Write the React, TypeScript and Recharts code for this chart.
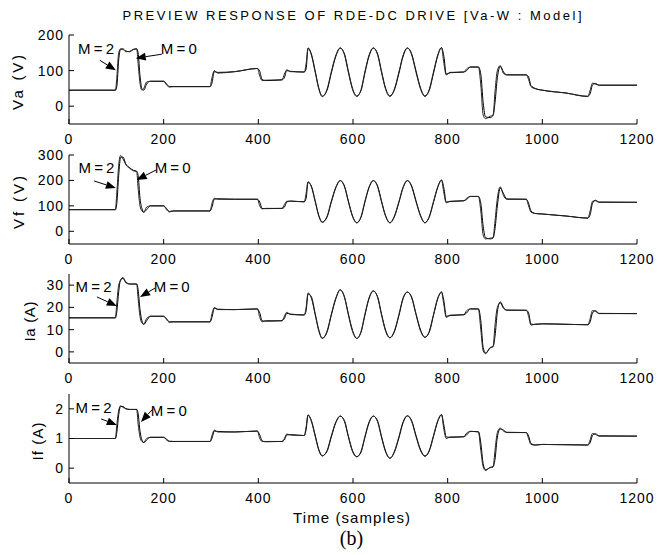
import React from 'react';
import { LineChart, Line, XAxis, YAxis, ReferenceLine, ReferenceDot } from 'recharts';

// sample instants (shared by all four traces)
const t = [
  0, 98, 101, 105, 109, 114, 120, 128, 136, 143, 146, 150, 154, 158, 164, 172, 200, 206, 212, 220,
  298, 302, 307, 314, 350, 398, 403, 408, 415, 450, 455, 460, 468, 497, 501,
  505, 512, 520, 528, 535, 545, 554, 564, 573, 582, 590, 599, 608, 617, 625, 634, 643, 652, 660, 669,
  678, 687, 697, 706, 715, 724, 733, 743, 752, 761, 770, 779, 787,
  792, 797, 805, 834, 840, 848, 865, 870, 875, 880, 890, 896, 900, 905, 911, 918, 925, 966, 971, 976,
  985, 1000, 1050, 1096, 1101, 1106, 1112, 1120, 1200,
];

// armature voltage Va (V)
const va2 = [
  45, 45, 80, 150, 161, 160, 153, 154, 160, 161, 120, 65, 45, 50, 68, 70, 70, 60, 54, 55,
  55, 80, 100, 93, 97, 106, 85, 72, 73, 74, 90, 102, 97, 96, 120,
  164, 144, 96, 47, 27, 47, 96, 144, 164, 144, 96, 47, 27, 47, 96, 144, 164, 144, 96, 47,
  27, 47, 96, 144, 164, 144, 96, 47, 27, 47, 96, 144, 165,
  120, 88, 95, 96, 105, 110, 110, 60, -25, -35, -28, -25, 40, 100, 114, 92, 88, 88, 75, 55,
  49, 45, 37, 27, 45, 65, 62, 59, 59,
];
const va0 = [
  45, 45, 55, 130, 160, 161, 155, 153, 159, 161, 150, 85, 50, 45, 62, 70, 70, 63, 55, 55,
  55, 65, 97, 95, 97, 106, 98, 75, 72, 74, 80, 100, 98, 96, 105,
  162, 147, 100, 50, 28, 44, 92, 141, 163, 147, 100, 50, 29, 44, 92, 141, 163, 147, 100, 50,
  29, 44, 92, 141, 163, 147, 100, 50, 29, 44, 92, 141, 164,
  140, 90, 94, 96, 100, 110, 110, 90, 10, -30, -32, -26, 10, 80, 112, 96, 88, 88, 82, 58,
  50, 45, 37, 28, 35, 60, 64, 59, 59,
];

// field voltage Vf (V)
const vf2 = [
  85, 85, 150, 260, 298, 285, 262, 248, 238, 235, 170, 100, 80, 75, 95, 100, 100, 85, 76, 80,
  80, 110, 130, 126, 126, 126, 100, 88, 90, 90, 105, 118, 118, 116, 150,
  195, 175, 117, 58, 35, 58, 117, 175, 200, 175, 117, 58, 33, 58, 117, 175, 200, 175, 117, 58,
  33, 58, 117, 175, 200, 175, 117, 58, 33, 58, 117, 175, 202,
  150, 112, 118, 120, 130, 137, 137, 80, -15, -30, -27, -25, 40, 130, 175, 140, 126, 126, 100, 75,
  70, 68, 60, 52, 80, 118, 120, 114, 114,
];
const vf0 = [
  85, 85, 110, 220, 290, 292, 265, 250, 240, 236, 220, 130, 90, 75, 85, 100, 100, 90, 78, 80,
  80, 95, 126, 128, 126, 126, 115, 90, 89, 90, 95, 115, 119, 116, 130,
  192, 178, 121, 61, 36, 55, 113, 172, 199, 178, 121, 61, 34, 55, 113, 172, 199, 178, 121, 61,
  34, 55, 113, 172, 199, 178, 121, 61, 34, 55, 113, 172, 201,
  170, 115, 117, 120, 125, 137, 137, 110, 20, -25, -30, -26, 10, 100, 170, 148, 127, 126, 110, 80,
  70, 68, 60, 52, 65, 110, 122, 115, 114,
];

// armature current Ia (A)
const ia2 = [
  15.3, 15.3, 22, 30, 32, 33.5, 31, 30.5, 30.5, 30.5, 24, 16, 13, 12.5, 15, 16, 16, 14.5, 13.3, 13.5,
  13.5, 17, 20, 19, 19, 19.3, 15.5, 13.5, 14, 14, 16, 17.8, 16.8, 16.6, 20,
  26.5, 24.2, 16.8, 9.2, 6, 9.2, 16.8, 24.4, 28, 24.4, 16.8, 9.2, 6, 9.2, 16.8, 24.4, 27.5, 24.4, 16.8, 9.2,
  6.3, 9.2, 16.8, 24.4, 27, 24.2, 16.8, 9.2, 6.5, 9.2, 16.8, 24.2, 27,
  21, 15.5, 16.5, 16.7, 18.5, 19.3, 19.3, 10, 0.5, -0.8, 2, 2.5, 12, 20, 22, 19.5, 18.7, 18.7, 16, 12,
  12.5, 12.6, 12.4, 12.2, 15, 18.6, 18.2, 17.2, 17.2,
];
const ia0 = [
  15.3, 15.3, 18, 27, 32.5, 33, 31.5, 30.5, 30.5, 30.5, 28, 19, 14, 12.3, 14, 16, 16, 15, 13.5, 13.5,
  13.5, 15.5, 19.6, 19.2, 19, 19.3, 17.5, 14, 13.8, 14, 15, 17.3, 17, 16.6, 18.5,
  26, 24.8, 17.3, 9.7, 6.2, 8.8, 16.3, 24, 27.8, 24.8, 17.3, 9.7, 6.1, 8.8, 16.3, 24, 27.3, 24.8, 17.3, 9.7,
  6.4, 8.8, 16.3, 24, 26.8, 24.6, 17.3, 9.7, 6.6, 8.8, 16.3, 23.8, 26.8,
  23, 16, 16.3, 16.7, 17.5, 19.3, 19.3, 14, 2, -0.5, 1.8, 2.3, 7, 18, 22.5, 20, 18.8, 18.7, 17.5, 12.5,
  12.3, 12.6, 12.4, 12.2, 13.5, 17.5, 18.5, 17.3, 17.2,
];

// field current If (A)
const if2 = [
  1, 1, 1.45, 1.95, 2.1, 2.05, 2.0, 1.98, 1.98, 1.98, 1.5, 1.05, 0.9, 0.87, 1.0, 1.04, 1.04, 0.95, 0.9, 0.9,
  0.9, 1.1, 1.28, 1.22, 1.22, 1.25, 1.0, 0.9, 0.9, 0.9, 1.0, 1.15, 1.12, 1.1, 1.4,
  1.8, 1.58, 1.08, 0.59, 0.41, 0.59, 1.08, 1.57, 1.76, 1.57, 1.06, 0.56, 0.38, 0.57, 1.06, 1.56, 1.76, 1.56, 1.05, 0.54,
  0.33, 0.55, 1.06, 1.57, 1.77, 1.57, 1.07, 0.58, 0.4, 0.6, 1.1, 1.6, 1.81,
  1.3, 1.0, 1.05, 1.06, 1.18, 1.24, 1.22, 0.6, 0.05, -0.08, 0.03, 0.05, 0.6, 1.2, 1.35, 1.25, 1.2, 1.2, 1.0, 0.8,
  0.78, 0.8, 0.79, 0.78, 0.95, 1.17, 1.14, 1.08, 1.08,
];
const if0 = [
  1, 1, 1.2, 1.8, 2.08, 2.08, 2.01, 1.98, 1.98, 1.98, 1.85, 1.25, 0.95, 0.86, 0.95, 1.04, 1.04, 0.98, 0.91, 0.9,
  0.9, 1.0, 1.25, 1.24, 1.22, 1.25, 1.12, 0.92, 0.89, 0.9, 0.95, 1.12, 1.13, 1.1, 1.3,
  1.78, 1.61, 1.12, 0.62, 0.42, 0.56, 1.04, 1.54, 1.75, 1.6, 1.1, 0.59, 0.39, 0.54, 1.02, 1.53, 1.75, 1.59, 1.09, 0.57,
  0.34, 0.52, 1.02, 1.54, 1.76, 1.6, 1.11, 0.61, 0.41, 0.57, 1.06, 1.57, 1.8,
  1.45, 1.05, 1.04, 1.06, 1.12, 1.24, 1.23, 0.85, 0.15, -0.05, 0.02, 0.04, 0.3, 1.05, 1.32, 1.28, 1.21, 1.2, 1.08, 0.83,
  0.78, 0.8, 0.79, 0.78, 0.86, 1.1, 1.16, 1.09, 1.08,
];

const xTicks = [0, 200, 400, 600, 800, 1000, 1200];

const FONT = '"Liberation Sans", Arial, Helvetica, sans-serif';
const PLOT_H = 89;
const PAD_TOP = 11;
const XAXIS_H = 28;

type Pt = [number, number];
interface Note { label: string; at: Pt; tail: Pt; tip: Pt }

const panels = [
  {
    id: 'va', m2: va2, m0: va0, domain: [-50, 200], ticks: [0, 100, 200], top: 35,
    ylabel: 'Va (V)', labelX: 17, labelLen: 55,
    notes: [
      { label: 'M=2', at: [57, 163], tail: [65, 129], tip: [99, 101] },
      { label: 'M=0', at: [232, 163], tail: [196, 146], tip: [141, 135] },
    ] as Note[],
  },
  {
    id: 'vf', m2: vf2, m0: vf0, domain: [-50, 300], ticks: [0, 100, 200, 300], top: 155,
    ylabel: 'Vf (V)', labelX: 18, labelLen: 53,
    notes: [
      { label: 'M=2', at: [58, 249], tail: [53, 198], tip: [99, 170] },
      { label: 'M=0', at: [219, 249], tail: [184, 241], tip: [143, 202] },
    ] as Note[],
  },
  {
    id: 'ia', m2: ia2, m0: ia0, domain: [-5, 35], ticks: [0, 10, 20, 30], top: 274,
    ylabel: 'Ia (A)', labelX: 29, labelLen: 40,
    notes: [
      { label: 'M=2', at: [52, 29.2], tail: [59, 24.7], tip: [101, 20.6] },
      { label: 'M=0', at: [217, 29.2], tail: [182, 28.7], tip: [150, 24.7] },
    ] as Note[],
  },
  {
    id: 'if', m2: if2, m0: if0, domain: [-0.5, 2.5], ticks: [0, 1, 2], top: 394,
    ylabel: 'If (A)', labelX: 37, labelLen: 38,
    notes: [
      { label: 'M=2', at: [52, 2.05], tail: [68, 1.66], tip: [101, 1.455] },
      { label: 'M=0', at: [211, 1.93], tail: [177, 1.99], tip: [152, 1.56] },
    ] as Note[],
  },
];

const tickStyle = { fontSize: 14, fill: '#000', fontFamily: FONT, letterSpacing: 1 };
const blank = () => '';

const Arrow = (p: any) => {
  const { x1, y1, x2, y2 } = p;
  const dx = x2 - x1;
  const dy = y2 - y1;
  const len = Math.hypot(dx, dy) || 1;
  const ux = dx / len;
  const uy = dy / len;
  const hl = 10;
  const hw = 4;
  const bx = x2 - ux * hl;
  const by = y2 - uy * hl;
  return (
    <g>
      <line x1={x1} y1={y1} x2={bx} y2={by} stroke="#000" strokeWidth={1} />
      <polygon
        points={`${x2},${y2} ${bx - uy * hw},${by + ux * hw} ${bx + uy * hw},${by - ux * hw}`}
        fill="#000"
      />
    </g>
  );
};

const noteText = (label: string) => (p: any) => (
  <text
    x={p.cx}
    y={p.cy}
    textAnchor="middle"
    dominantBaseline="central"
    fontFamily={FONT}
    fontSize={15}
    textLength={36}
    lengthAdjust="spacing"
    fill="#000"
  >
    {label}
  </text>
);

function Panel({ p }: { p: (typeof panels)[number] }) {
  const rows = t.map((x, i) => ({ t: x, m2: p.m2[i], m0: p.m0[i] }));
  return (
    <div style={{ position: 'absolute', left: 0, top: p.top - PAD_TOP }}>
      <LineChart
        width={668}
        height={PAD_TOP + PLOT_H + XAXIS_H}
        data={rows}
        margin={{ top: PAD_TOP, right: 31, bottom: 0, left: 0 }}
      >
        <XAxis
          dataKey="t" type="number" domain={[0, 1200]} ticks={xTicks} interval={0}
          allowDataOverflow height={XAXIS_H} tickSize={-5} tickMargin={15}
          stroke="#000" tick={tickStyle}
        />
        <XAxis
          xAxisId="top" orientation="top" dataKey="t" type="number" domain={[0, 1200]}
          ticks={xTicks} interval={0} allowDataOverflow height={0} tickSize={-5}
          tickFormatter={blank} stroke="#000"
        />
        <YAxis
          type="number" domain={p.domain} ticks={p.ticks} interval={0} allowDataOverflow
          width={69} tickSize={-5} tickMargin={10} stroke="#000" tick={tickStyle}
        />
        <YAxis
          yAxisId="right" orientation="right" type="number" domain={p.domain} ticks={p.ticks}
          interval={0} allowDataOverflow width={0} tickSize={-5} tickFormatter={blank} stroke="#000"
        />
        <Line
          type="monotone" dataKey="m0" stroke="#000" strokeWidth={1} dot={false}
          isAnimationActive={false}
        />
        <Line
          type="monotone" dataKey="m2" stroke="#222" strokeWidth={1} dot={false}
          isAnimationActive={false}
        />
        {p.notes.map((n) => (
          <ReferenceLine
            key={`a-${n.label}`}
            segment={[{ x: n.tail[0], y: n.tail[1] }, { x: n.tip[0], y: n.tip[1] }]}
            shape={Arrow}
            ifOverflow="visible"
          />
        ))}
        {p.notes.map((n) => (
          <ReferenceDot
            key={`t-${n.label}`}
            x={n.at[0]}
            y={n.at[1]}
            r={0}
            shape={noteText(n.label)}
            ifOverflow="visible"
          />
        ))}
      </LineChart>
    </div>
  );
}

export default function App() {
  return (
    <div
      style={{
        position: 'absolute', left: 0, top: 0, width: 668, height: 555,
        background: '#fff', fontFamily: FONT,
      }}
    >
      {panels.map((p) => (
        <Panel key={p.id} p={p} />
      ))}
      <svg
        width={668}
        height={555}
        style={{ position: 'absolute', left: 0, top: 0, pointerEvents: 'none' }}
      >
        <text
          x={352} y={19.5} textAnchor="middle" fontFamily={FONT} fontSize={13}
          textLength={459} lengthAdjust="spacing" fill="#000"
        >
          PREVIEW RESPONSE OF RDE-DC DRIVE  [Va-W : Model]
        </text>
        {panels.map((p) => {
          const cy = p.top + PLOT_H / 2 + 3;
          return (
            <text
              key={`yl-${p.id}`}
              x={p.labelX}
              y={cy}
              transform={`rotate(-90 ${p.labelX} ${cy})`}
              textAnchor="middle"
              dominantBaseline="central"
              fontFamily={FONT}
              fontSize={15}
              textLength={p.labelLen}
              lengthAdjust="spacing"
              fill="#000"
            >
              {p.ylabel}
            </text>
          );
        })}
        <text
          x={351.5} y={523} textAnchor="middle" fontFamily={FONT} fontSize={15}
          textLength={117} lengthAdjust="spacing" fill="#000"
        >
          Time (samples)
        </text>
        <text
          x={351.5} y={545} textAnchor="middle" fontFamily='"Liberation Serif", "Times New Roman", serif'
          fontSize={20} fill="#000"
        >
          (b)
        </text>
      </svg>
    </div>
  );
}
